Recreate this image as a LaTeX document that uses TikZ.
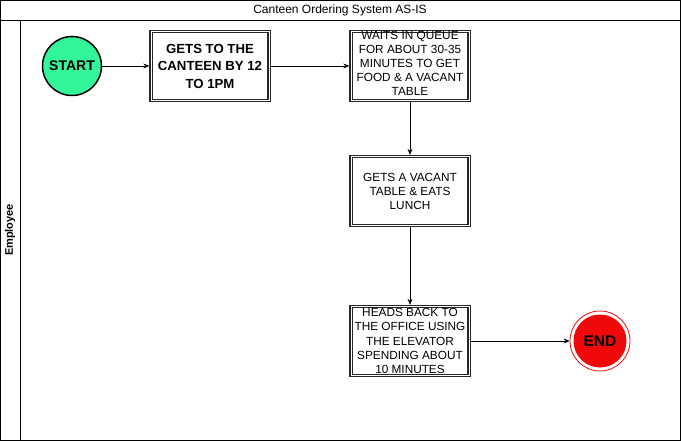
\documentclass[tikz,border=0pt]{standalone}
\usepackage{fontspec}
\setmainfont{Liberation Sans}
\usetikzlibrary{arrows.meta}
\definecolor{startgreen}{HTML}{33F59A}
\definecolor{endred}{HTML}{EE0A0A}
\begin{document}
\begin{tikzpicture}[x=1pt,y=-1pt,
  stepbox/.style={draw=black!85,line width=3.3pt,minimum width=118pt,minimum height=69pt,inner sep=1pt,align=center,font=\fontsize{11.8}{14}\selectfont,
    postaction={draw=white,line width=1pt}},
  flow/.style={-{Stealth[length=6pt,width=5pt]},line width=0.7pt},
  frame/.style={draw=black,line width=0.8pt}]
\useasboundingbox (0,0) rectangle (681,441);
\draw[frame] (0.5,0.5) rectangle (680,440);
\draw[frame] (0.5,20) -- (680,20);
\draw[frame] (20,20) -- (20,440);
\node (title) at (340,10) {\fontsize{12}{14}\selectfont Canteen Ordering System AS-IS};
\node[rotate=90,font=\bfseries\fontsize{11}{13}\selectfont] (lane) at (10,230) {Employee};
\node[circle,draw=black,line width=1.5pt,fill=startgreen,minimum size=59pt,inner sep=0pt,font=\bfseries\fontsize{14}{16}\selectfont] (start) at (72,66) {START};
\node[stepbox,font=\bfseries\fontsize{13.2}{17.5}\selectfont] (b1) at (210,66) {GETS TO THE\\CANTEEN BY 12\\TO 1PM};
\node[stepbox] (b2) at (410,66) {};
\node[align=center,font=\fontsize{11.8}{14}\selectfont,inner sep=0pt] (b2t) at (410,63) {WAITS IN QUEUE\\FOR ABOUT 30-35\\MINUTES TO GET\\FOOD \& A VACANT\\TABLE};
\node[stepbox] (b3) at (410,191) {GETS A VACANT\\TABLE \& EATS\\LUNCH};
\node[stepbox] (b4) at (410,341) {};
\node[align=center,font=\fontsize{11.8}{14.3}\selectfont,inner sep=0pt] (b4t) at (410,341) {HEADS BACK TO\\THE OFFICE USING\\THE ELEVATOR\\SPENDING ABOUT\\10 MINUTES};
\node[circle,draw=endred,line width=0.8pt,fill=white,minimum size=60pt,inner sep=0pt] (endo) at (600,341) {};
\node[circle,fill=endred,minimum size=53pt,inner sep=0pt,font=\bfseries\fontsize{15.5}{17}\selectfont] (end) at (600,341) {END};
\draw[flow] (start) -- (b1);
\draw[flow] (b1) -- (b2);
\draw[flow] (b2) -- (b3);
\draw[flow] (b3) -- (b4);
\draw[flow] (b4) -- (endo);
\end{tikzpicture}
\end{document}
